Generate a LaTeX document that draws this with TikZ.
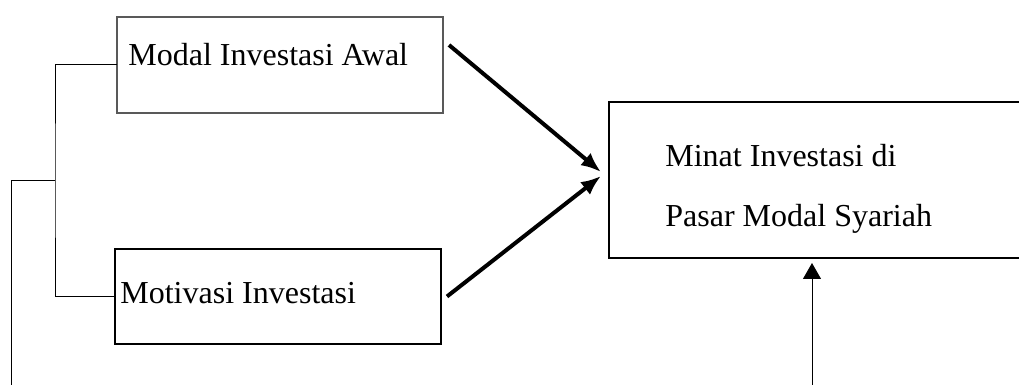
\documentclass[tikz,border=0pt]{standalone}
\usepackage{fontspec}
\setmainfont{Liberation Serif}
\usepackage{tikz}
\usetikzlibrary{arrows.meta}

\begin{document}
\begin{tikzpicture}[x=0.5pt,y=-0.5pt,
  box/.style={draw, line width=0.9pt, inner sep=0pt, outer sep=0pt},
  txt/.style={inner sep=0pt, anchor=base west, font=\fontsize{16}{19}\selectfont},
  link/.style={line width=0.5pt},
  bigarrow/.style={line width=2pt, -{Latex[length=10pt,width=8pt]}}]
\useasboundingbox (0,0) rectangle (1019,385);
\node[box, draw=black!65, minimum width=163pt, minimum height=48pt] (a) at (280,65) {};
\node[box, minimum width=163pt, minimum height=47.5pt] (b) at (278,296.5) {};
\node[inner sep=0pt, outer sep=0pt, minimum width=210.5pt, minimum height=78pt] (c) at (819.5,180) {};
\draw[line width=0.9pt] ([xshift=10pt]c.north east) -- (c.north west) -- (c.south west) -- ([xshift=10pt]c.south east);
\node[txt] (at) at (128,66) {Modal Investasi Awal};
\node[txt] (bt) at (120,304) {Motivasi Investasi};
\node[txt] (ct) at (665,167) {Minat Investasi di};
\node[txt] (cb) at (665,227) {Pasar Modal Syariah};
\coordinate (j) at (55,181);
\coordinate (d) at (11,385);
\coordinate (e) at (812,385);
\draw[link] (a.west) -| (j) -- (j |- b.west);
\draw[line width=0.8pt] (j |- b.west) -- (b.west);
\draw[link] (j) -- (d |- j) -- (d);
\draw[line width=0.5pt, -{Triangle[length=8pt,width=9pt]}] (e) -- ([yshift=-2.5pt]c.south -| e);
\draw[bigarrow] ([shift={(3pt,10pt)}]a.east) -- ([shift={(-4pt,4pt)}]c.west);
\draw[bigarrow] ([xshift=3pt]b.east) -- ([shift={(-4pt,2pt)}]c.west);
\end{tikzpicture}
\end{document}
